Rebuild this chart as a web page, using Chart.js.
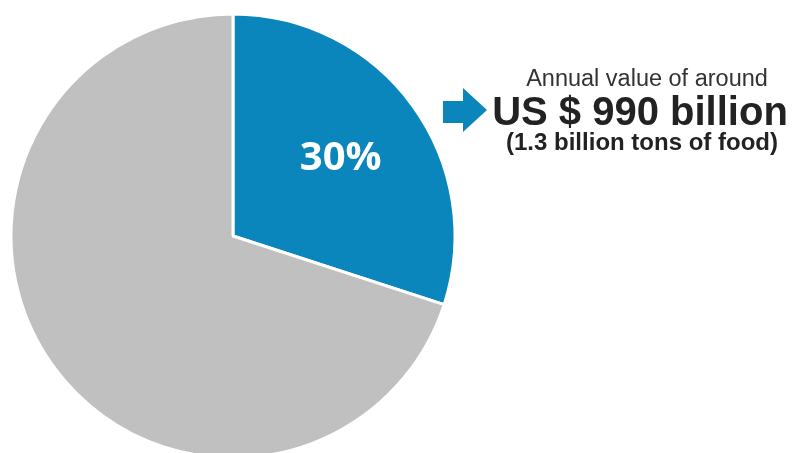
<!DOCTYPE html>
<html>
<head>
<meta charset="utf-8">
<style>
  html, body { margin: 0; padding: 0; background: #fff; overflow: hidden; }
  #wasteChart { display: block; }
</style>
<script src="https://cdn.jsdelivr.net/npm/chart.js@4/dist/chart.umd.min.js"></script>
</head>
<body>
<canvas id="wasteChart" width="794" height="472"></canvas>
<script>
"use strict";

const shareLabels = ['Lost or wasted', 'Consumed'];
const shareValues = [30, 70];
const shareColors = ['#0a86bc', '#c0c0c0'];

const calloutLines = [
  'Annual value of around',
  'US $ 990 billion',
  '(1.3 billion tons of food)'
];

// percentage label in the blue slice and the arrow callout on the right
const calloutPlugin = {
  id: 'callout',
  afterDraw(chart) {
    const ctx = chart.ctx;
    const arc = chart.getDatasetMeta(0).data[0];
    const {x, y, startAngle, endAngle, outerRadius} =
      arc.getProps(['x', 'y', 'startAngle', 'endAngle', 'outerRadius'], true);
    const mid = (startAngle + endAngle) / 2;
    const r = outerRadius * 0.6;

    ctx.save();
    ctx.fillStyle = '#ffffff';
    ctx.font = 'bold 40px "Open Sans"';
    ctx.textAlign = 'center';
    ctx.textBaseline = 'middle';
    ctx.fillText(shareValues[0] + '%', x + r * Math.cos(mid), y + r * Math.sin(mid) + 1);

    // arrow
    ctx.fillStyle = shareColors[0];
    ctx.beginPath();
    ctx.moveTo(443, 101);
    ctx.lineTo(463, 101);
    ctx.lineTo(463, 88);
    ctx.lineTo(487, 110);
    ctx.lineTo(463, 132);
    ctx.lineTo(463, 123);
    ctx.lineTo(443, 123);
    ctx.closePath();
    ctx.fill();

    ctx.textBaseline = 'alphabetic';
    ctx.fillStyle = '#333333';
    ctx.font = '23.5px "Liberation Sans"';
    ctx.fillText(calloutLines[0], 647, 86);

    ctx.fillStyle = '#222222';
    ctx.font = 'bold 40px "Liberation Sans"';
    ctx.fillText(calloutLines[1], 640, 125);

    ctx.font = 'bold 24px "Liberation Sans"';
    ctx.fillText(calloutLines[2], 642, 150);
    ctx.restore();
  }
};

new Chart(document.getElementById('wasteChart'), {
  type: 'pie',
  data: {
    labels: shareLabels,
    datasets: [{
      data: shareValues,
      backgroundColor: shareColors,
      borderColor: '#ffffff',
      borderWidth: 3
    }]
  },
  options: {
    responsive: false,
    animation: false,
    radius: 222,
    layout: { padding: { left: 0, top: 0, right: 328, bottom: 0 } },
    plugins: {
      legend: { display: false },
      tooltip: { enabled: false }
    }
  },
  plugins: [calloutPlugin]
});
</script>
</body>
</html>
